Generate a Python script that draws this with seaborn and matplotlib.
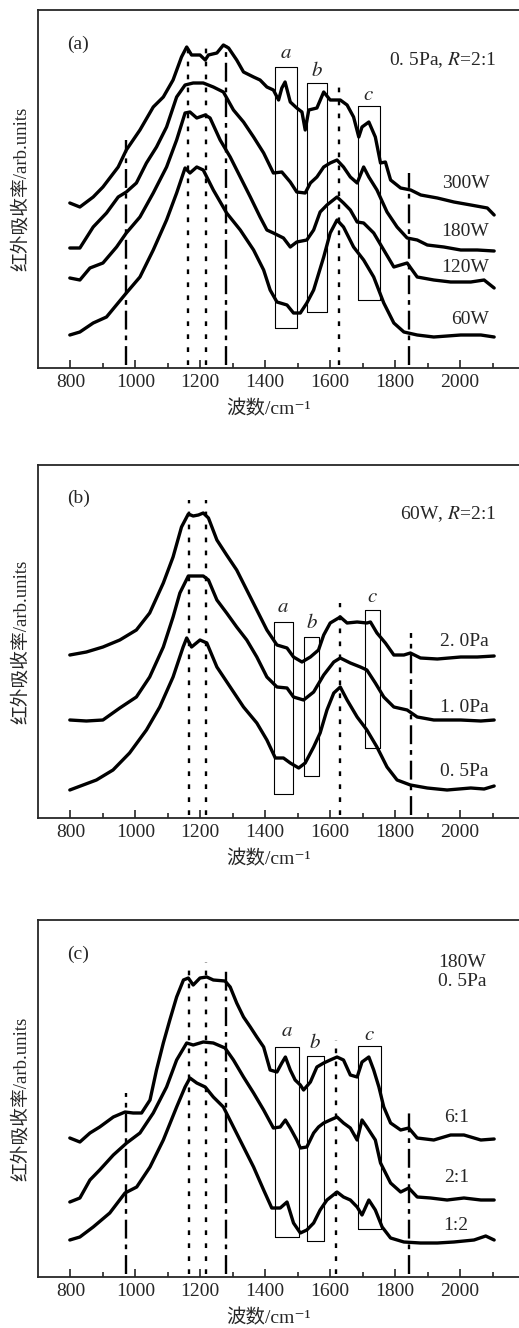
import numpy as np
import pandas as pd
import matplotlib
matplotlib.use("Agg")
import matplotlib.pyplot as plt
import seaborn as sns

sns.set_style("ticks")
plt.rcParams['font.family'] = ['Liberation Serif', 'Noto Sans CJK SC', 'DejaVu Serif']
plt.rcParams['mathtext.fontset'] = 'stix'

# ---------------- panel (a): power series, 0.5Pa, R=2:1 ----------------
a_300_x = [798, 829, 870, 900, 947, 972, 1014, 1055, 1086, 1116, 1142, 1158, 1173, 1199, 1215, 1225, 1251, 1271,
           1287, 1312, 1333, 1364, 1384, 1405, 1425, 1441, 1451, 1461, 1477, 1497, 1513, 1523, 1534, 1559, 1580,
           1600, 1631, 1652, 1672, 1688, 1698, 1719, 1739, 1755, 1770, 1786, 1817, 1848, 1879, 1930, 1981, 2033,
           2084, 2105]
a_300_y = [165, 161, 171, 181, 201, 218, 238, 261, 271, 288, 311, 321, 313, 313, 308, 313, 315, 323,
           320, 308, 296, 291, 288, 281, 278, 268, 280, 286, 266, 260, 256, 238, 258, 260, 276,
           268, 268, 263, 251, 231, 241, 246, 231, 205, 206, 188, 180, 178, 173, 170, 166, 163,
           160, 153]
a_180_x = [798, 829, 870, 911, 947, 972, 1003, 1034, 1065, 1096, 1127, 1153, 1178, 1209, 1240, 1271, 1302, 1333,
           1364, 1395, 1425, 1451, 1477, 1497, 1523, 1539, 1559, 1580, 1600, 1621, 1641, 1662, 1683, 1703, 1719,
           1744, 1775, 1806, 1837, 1868, 1899, 1950, 2002, 2053, 2105]
a_180_y = [120, 120, 141, 155, 171, 176, 185, 205, 221, 241, 271, 283, 285, 285, 281, 276, 258, 246,
           231, 215, 195, 196, 186, 176, 175, 185, 191, 201, 205, 208, 201, 191, 185, 201, 191,
           178, 156, 141, 130, 128, 123, 121, 118, 118, 117]
a_120_x = [798, 829, 860, 900, 942, 972, 1014, 1055, 1096, 1127, 1153, 1168, 1189, 1215, 1230, 1261, 1292, 1323,
           1354, 1384, 1405, 1425, 1456, 1477, 1497, 1528, 1549, 1569, 1590, 1621, 1641, 1662, 1683, 1703, 1734,
           1765, 1796, 1837, 1868, 1919, 1971, 2033, 2074, 2105]
a_120_y = [90, 88, 100, 105, 121, 135, 151, 175, 201, 228, 255, 256, 250, 253, 250, 228, 211, 191,
           171, 151, 138, 135, 130, 121, 126, 128, 138, 156, 163, 171, 165, 158, 146, 145, 135,
           118, 101, 105, 91, 88, 86, 86, 88, 80]
a_60_x = [798, 829, 870, 911, 972, 1014, 1055, 1096, 1127, 1153, 1168, 1189, 1209, 1240, 1281, 1323, 1364, 1395,
          1415, 1436, 1467, 1487, 1508, 1528, 1549, 1580, 1600, 1621, 1641, 1672, 1703, 1734, 1765, 1796, 1827,
          1868, 1919, 2002, 2064, 2105]
a_60_y = [33, 36, 45, 51, 75, 91, 118, 148, 175, 200, 195, 201, 198, 178, 155, 138, 118, 98,
          78, 66, 63, 55, 55, 65, 78, 111, 135, 148, 141, 121, 108, 91, 65, 45, 36,
          33, 31, 33, 33, 31]

# ---------------- panel (b): pressure series, 60W, R=2:1 ----------------
b_20_x = [798, 849, 900, 952, 1003, 1044, 1086, 1116, 1142, 1163, 1178, 1194, 1209, 1225, 1251, 1281, 1312, 1343,
          1374, 1405, 1436, 1467, 1487, 1513, 1539, 1564, 1580, 1600, 1631, 1652, 1683, 1713, 1724, 1744, 1770,
          1796, 1827, 1847, 1878, 1930, 2002, 2053, 2105]
b_20_y = [163, 166, 171, 178, 188, 205, 235, 261, 291, 304, 302, 303, 305, 300, 278, 263, 248, 228,
          208, 188, 173, 170, 161, 156, 161, 168, 183, 195, 201, 195, 196, 195, 196, 185, 175,
          163, 163, 165, 160, 159, 161, 161, 162]
b_10_x = [798, 849, 900, 952, 1003, 1044, 1086, 1116, 1137, 1163, 1209, 1225, 1251, 1281, 1312, 1343, 1374, 1405,
          1436, 1467, 1487, 1518, 1549, 1580, 1611, 1631, 1662, 1693, 1713, 1739, 1765, 1796, 1837, 1868, 1919,
          2002, 2064, 2105]
b_10_y = [98, 97, 98, 110, 121, 141, 171, 201, 225, 242, 242, 238, 218, 205, 191, 178, 161, 141,
          131, 130, 121, 118, 126, 143, 156, 160, 155, 151, 148, 135, 121, 111, 108, 101, 98,
          98, 97, 98]
b_05_x = [798, 839, 880, 931, 982, 1034, 1075, 1116, 1147, 1158, 1173, 1199, 1220, 1251, 1292, 1333, 1374, 1405,
          1431, 1456, 1477, 1503, 1523, 1549, 1569, 1590, 1611, 1631, 1652, 1683, 1713, 1744, 1775, 1806, 1847,
          1899, 1960, 2033, 2074, 2105]
b_05_y = [28, 33, 38, 48, 65, 88, 111, 141, 171, 180, 171, 178, 175, 151, 131, 111, 95, 78,
          60, 60, 55, 50, 55, 71, 85, 108, 125, 131, 118, 101, 88, 71, 51, 38, 33,
          30, 28, 30, 29, 32]

# ---------------- panel (c): ratio series, 180W, 0.5Pa ----------------
c_61_x = [798, 829, 860, 890, 932, 968, 993, 1019, 1045, 1065, 1086, 1106, 1127, 1148, 1163, 1178, 1199, 1220,
          1240, 1276, 1292, 1312, 1333, 1354, 1374, 1395, 1415, 1436, 1451, 1462, 1477, 1492, 1508, 1518, 1539,
          1559, 1580, 1600, 1621, 1641, 1662, 1683, 1698, 1719, 1734, 1750, 1765, 1786, 1817, 1842, 1868, 1919,
          1971, 2012, 2064, 2105]
c_61_y = [139, 135, 144, 150, 160, 165, 164, 164, 177, 207, 234, 257, 280, 297, 299, 292, 299, 300,
          297, 296, 290, 274, 260, 250, 240, 230, 207, 205, 214, 220, 207, 197, 192, 187, 195,
          210, 214, 217, 220, 217, 202, 200, 215, 220, 207, 190, 170, 154, 147, 149, 139, 137,
          142, 142, 137, 138]
c_21_x = [798, 829, 860, 890, 932, 973, 1014, 1055, 1096, 1127, 1158, 1178, 1209, 1240, 1276, 1302, 1333, 1364,
          1395, 1425, 1446, 1462, 1477, 1497, 1508, 1528, 1549, 1564, 1580, 1600, 1621, 1641, 1662, 1683, 1698,
          1713, 1739, 1755, 1786, 1817, 1842, 1868, 1909, 1960, 2012, 2064, 2105]
c_21_y = [75, 79, 97, 107, 122, 134, 144, 164, 190, 217, 234, 232, 235, 234, 229, 217, 200, 184,
          167, 149, 150, 157, 149, 137, 129, 130, 144, 150, 154, 157, 160, 154, 149, 137, 157,
          150, 137, 114, 94, 85, 89, 80, 79, 77, 79, 77, 77]
c_12_x = [798, 829, 870, 921, 968, 1004, 1045, 1086, 1127, 1153, 1168, 1189, 1215, 1240, 1271, 1302, 1333, 1364,
          1395, 1420, 1446, 1467, 1487, 1508, 1528, 1549, 1569, 1590, 1621, 1641, 1662, 1683, 1698, 1719, 1739,
          1760, 1786, 1827, 1878, 1930, 1981, 2043, 2079, 2105]
c_12_y = [37, 40, 50, 64, 84, 90, 110, 137, 170, 190, 199, 194, 190, 180, 170, 150, 130, 110,
          87, 69, 69, 75, 54, 44, 47, 54, 67, 77, 85, 80, 77, 70, 62, 77, 67,
          50, 39, 35, 34, 34, 35, 37, 41, 37]

# band windows a, b, c (wavenumber span, bottom, top) per panel
boxes_a = [(1429, 1498, 40, 301), (1528, 1590, 56, 285), (1686, 1752, 68, 262)]
boxes_b = [(1426, 1485, 24, 196), (1518, 1567, 42, 181), (1706, 1753, 70, 208)]
boxes_c = [(1429, 1503, 40, 230), (1528, 1580, 36, 221), (1685, 1755, 48, 231)]
box_names = ["a", "b", "c"]
box_label_y_a = [315, 296, 273]
box_label_y_b = [210, 195, 220]
box_label_y_c = [245, 234, 242]

# marker lines (position, top of line, style)
vlines_a = [(970, 228, "dd"), (1163, 326, "dot"), (1217, 321, "dot"), (1280, 323, "dd"),
            (1627, 281, "dot"), (1843, 195, "dd")]
vlines_b = [(1165, 318, "dot"), (1217, 318, "dot"), (1630, 215, "dot"), (1848, 185, "dd")]
vlines_c = [(970, 184, "dd"), (1164, 312, "dot"), (1217, 315, "dot"), (1280, 307, "dd"),
            (1617, 237, "dot"), (1843, 165, "dd")]

panels = [
    dict(curves=[(a_300_x, a_300_y, "300W", 184), (a_180_x, a_180_y, "180W", 136),
                 (a_120_x, a_120_y, "120W", 101), (a_60_x, a_60_y, "60W", 48)],
         boxes=boxes_a, box_y=box_label_y_a, vlines=vlines_a, tag="(a)",
         cond="0. 5Pa, $R$=2:1", top=10, bottom=368, label_x=2090),
    dict(curves=[(b_20_x, b_20_y, "2. 0Pa", 176), (b_10_x, b_10_y, "1. 0Pa", 111),
                 (b_05_x, b_05_y, "0. 5Pa", 46)],
         boxes=boxes_b, box_y=box_label_y_b, vlines=vlines_b, tag="(b)",
         cond="60W, $R$=2:1", top=465, bottom=818, label_x=2087),
    dict(curves=[(c_61_x, c_61_y, "6:1", 160), (c_21_x, c_21_y, "2:1", 99),
                 (c_12_x, c_12_y, "1:2", 52)],
         boxes=boxes_c, box_y=box_label_y_c, vlines=vlines_c, tag="(c)",
         cond="180W\n0. 5Pa", top=920, bottom=1277, label_x=2027),
]

W, H = 519, 1328
fig = plt.figure(figsize=(W / 100, H / 100), dpi=100)
styles = {"dot": (0, (2, 3.5)), "dd": (0, (8, 2.5, 2, 2.5))}

for p in panels:
    h = p["bottom"] - p["top"]
    ax = fig.add_axes([38 / W, 1 - p["bottom"] / H, 487 / W, h / H])
    for x, y, name, ly in p["curves"]:
        df = pd.DataFrame({"wn": x, "abs": y})
        sns.lineplot(data=df, x="wn", y="abs", ax=ax, color="black", lw=2.4,
                     estimator=None, sort=False)
        ax.text(p["label_x"], ly, name, ha="right", va="center", fontsize=14)
    for (x0, x1, y0, y1), nm, ty in zip(p["boxes"], box_names, p["box_y"]):
        ax.plot([x0, x1, x1, x0, x0], [y0, y0, y1, y1, y0], color="black", lw=0.8)
        ax.text((x0 + x1) / 2, ty, "$" + nm + "$", ha="center", va="center", fontsize=15)
    for xv, yt, st in p["vlines"]:
        ax.plot([xv, xv], [3, yt], color="black", lw=1.7, linestyle=styles[st])
    ax.text(0.06, 0.905, p["tag"], transform=ax.transAxes, ha="left", va="center", fontsize=14)
    if "\n" in p["cond"]:
        ax.text(1932, h - 52, p["cond"], ha="left", va="center", fontsize=14, linespacing=1.1)
    else:
        ax.text(0.942, 0.86, p["cond"], transform=ax.transAxes, ha="right", va="center", fontsize=14)

    ax.set_xlim(700, 2200)
    ax.set_ylim(0, h)
    ax.set_xticks([800, 1000, 1200, 1400, 1600, 1800, 2000])
    ax.set_xticks([900, 1100, 1300, 1500, 1700, 1900, 2100], minor=True)
    ax.set_yticks([])
    ax.tick_params(axis="x", which="major", direction="in", length=6, width=1.2, labelsize=14, pad=4)
    ax.tick_params(axis="x", which="minor", direction="in", length=3.5, width=1.2)
    for s in ax.spines.values():
        s.set_linewidth(1.3)
    ax.set_xlabel("波数/cm⁻¹", fontsize=14)
    ax.xaxis.set_label_coords(0.474, -32 / h)
    ax.set_ylabel("红外吸收率/arb.units", fontsize=13.5, labelpad=6)

fig.savefig("out.png", dpi=100)
